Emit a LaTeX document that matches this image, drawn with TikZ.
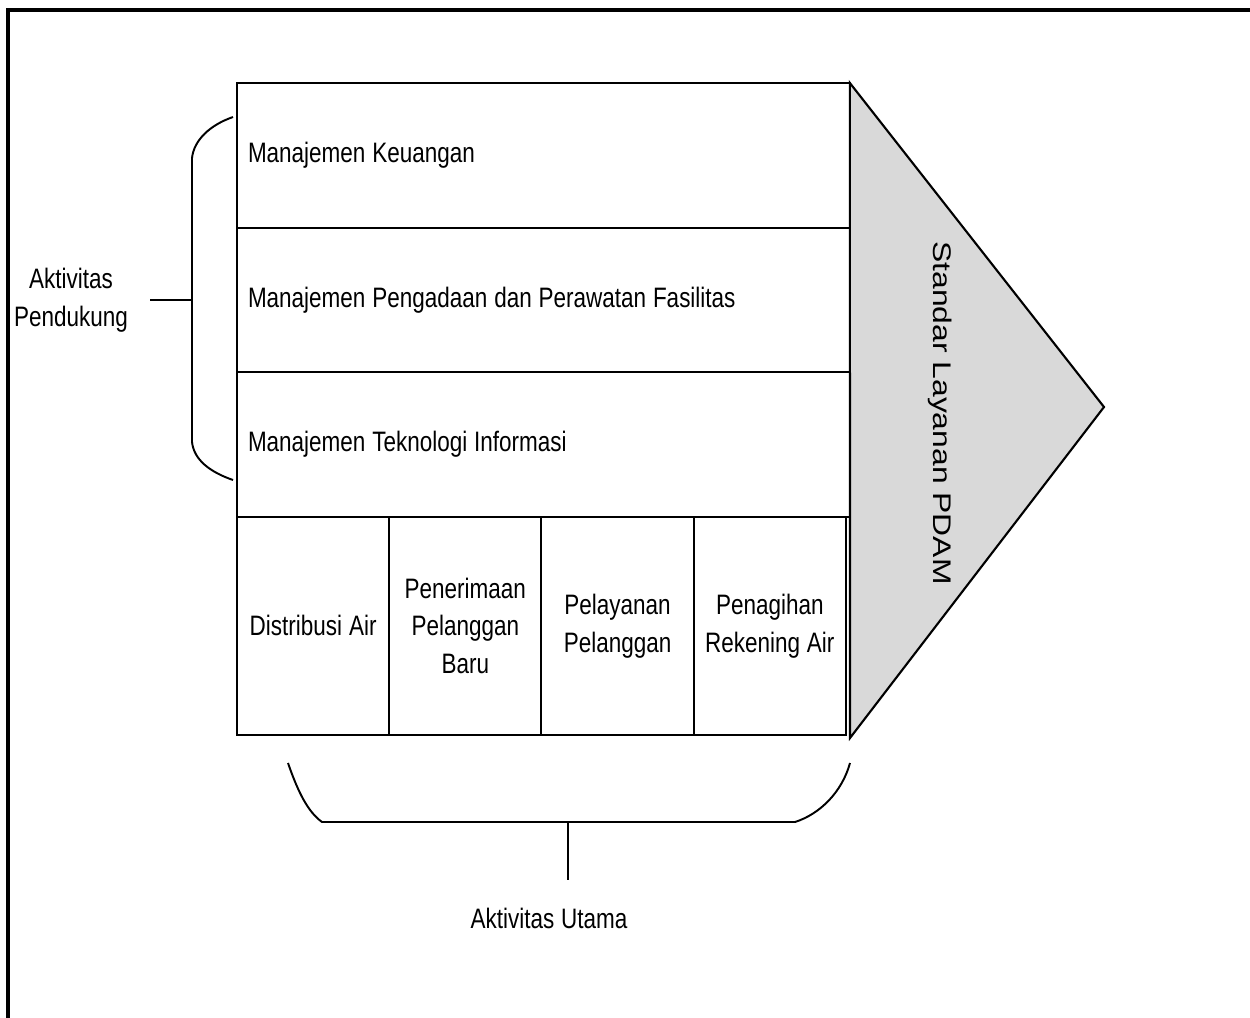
\documentclass[tikz,border=0pt]{standalone}
\usepackage{fontspec}
\setmainfont{Liberation Sans}[FakeStretch=0.8, WordSpace=1.1]
\newfontfamily\pdamfont{Liberation Sans}[FakeStretch=1.25]
\usetikzlibrary{positioning}
\definecolor{pdamgray}{HTML}{D9D9D9}
\tikzset{
    suprow/.style={
        draw, line width=1.1pt, outer sep=0pt,
        minimum width=12.26cm, minimum height=2.893cm,
        text width=11.82cm, inner xsep=0.22cm, inner ysep=0pt,
        align=flush left
    },
    mainact/.style={
        draw, line width=1.1pt, outer sep=0pt,
        minimum width=3.045cm, minimum height=4.36cm,
        inner sep=1pt, align=flush center
    },
    brace/.style={line width=1.1pt}
}

\begin{document}
\begin{tikzpicture}[
    x=0.02cm, y=-0.02cm,
    font=\fontsize{16}{21.5}\selectfont,
    frame/.style={draw, line width=1.9pt},
    margin/.style={draw, line width=1.2pt, fill=pdamgray, line join=miter},
]
\useasboundingbox (0,0) rectangle (1250,1017);

% ===============================
%              frame
% ===============================

\draw[frame] (8,10) rectangle (1264,1032);

% ===============================
%     Support activities (rows)
% ===============================

\node[suprow, anchor=north west] (keu) at (237,83) {Manajemen Keuangan};
\node[suprow, below=0pt of keu] (fas)
    {Manajemen Pengadaan dan Perawatan Fasilitas};
\node[suprow, below=0pt of fas] (ti) {Manajemen Teknologi Informasi};

% ===============================
%     Primary activities (columns)
% ===============================

\node[mainact, anchor=north west] (dist) at (ti.south west) {Distribusi Air};
\node[mainact, right=0pt of dist] (baru) {Penerimaan\\Pelanggan\\Baru};
\node[mainact, right=0pt of baru] (layan) {Pelayanan\\Pelanggan};
\node[mainact, right=0pt of layan] (tagih) {Penagihan\\Rekening Air};

% ===============================
%         Margin (triangle)
% ===============================

\coordinate (tip) at (1104,407);
\coordinate (tipbase) at (850,738);
\draw[margin] (keu.north east) -- (tip) -- (tipbase) -- cycle;
\node[rotate=-90, font=\pdamfont\fontsize{14.5}{17}\selectfont] (std)
    at (940,413) {Standar Layanan PDAM};

% ===============================
%              braces
% ===============================

\coordinate (supa) at (233,117);
\coordinate (supb) at (233,480);
\coordinate (suptick) at (192,300);
\draw[brace] (supa) .. controls (210,125) and (194,140) .. (192,158)
    -- (192,442) .. controls (194,460) and (210,472) .. (supb);

\coordinate (maina) at (288,763);
\coordinate (mainb) at (850,763);
\coordinate (maintick) at (568,822);
\draw[brace] (maina) .. controls (298,792) and (308,812) .. (322,822)
    -- (795,822) .. controls (820,814) and (842,792) .. (mainb);

% ===============================
%              labels
% ===============================

\node[align=flush center] (pendukung) at (71,300) {Aktivitas\\Pendukung};
\node (utama) at (549,918) {Aktivitas Utama};

\coordinate (supend) at (150,300);
\coordinate (mainend) at (568,880);
\draw[brace] (supend) -- (suptick);
\draw[brace] (maintick) -- (mainend);

\end{tikzpicture}
\end{document}
